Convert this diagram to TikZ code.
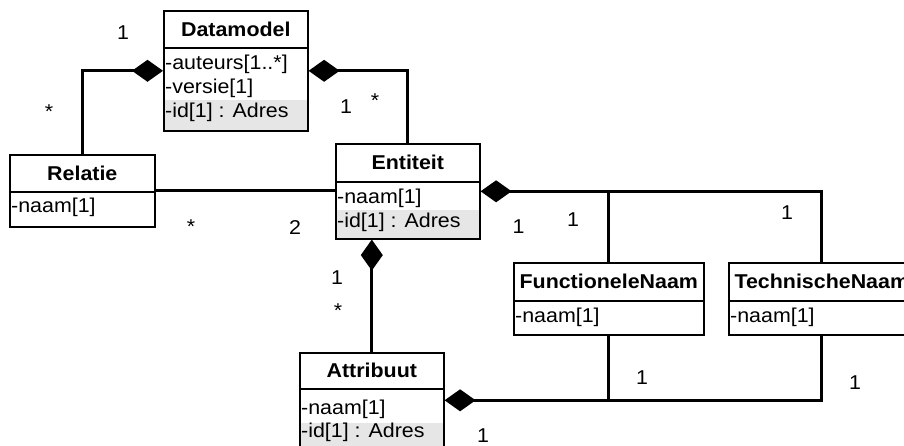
\documentclass[tikz,border=0pt]{standalone}
\usepackage{fontspec}
\setmainfont{Liberation Sans}[FakeStretch=1.07]
\usetikzlibrary{arrows.meta,backgrounds}
\definecolor{rowshade}{RGB}{230,230,230}
\tikzset{
  classbox/.style={draw, line width=1.6pt, inner sep=0pt, anchor=north west},
  classtitle/.style={anchor=base, inner sep=0pt, font=\fontsize{20}{24}\selectfont\bfseries},
  member/.style={anchor=base west, inner sep=0pt},
  mult/.style={anchor=base, inner sep=0pt},
  sepline/.style={line width=1.6pt},
  link/.style={line width=3pt},
  comp/.style={link, {Diamond[length=31pt,width=22pt,line width=0pt]}-},
}
\begin{document}
\begin{tikzpicture}[x=1pt, y=-1pt, font=\fontsize{20}{24}\selectfont]
\useasboundingbox (0,0) rectangle (904,446);
\clip (0,0) rectangle (904,446);

% class boxes
\node[classbox, minimum width=144pt, minimum height=120pt] (datamodel) at (163,10) {};
\node[classbox, minimum width=145pt, minimum height=72pt]  (relatie)   at (9,154) {};
\node[classbox, minimum width=144pt, minimum height=95pt]  (entiteit)  at (335,143) {};
\node[classbox, minimum width=190pt, minimum height=72pt]  (fnaam)     at (513,262) {};
\node[classbox, minimum width=186pt, minimum height=72pt]  (tnaam)     at (728,262) {};
\node[classbox, minimum width=144pt, minimum height=95pt]  (attribuut) at (299,352) {};

% shaded identifier rows
\begin{pgfonlayer}{background}
  \fill[rowshade] (datamodel.west |- 0,100) rectangle (datamodel.south east);
  \fill[rowshade] (entiteit.west |- 0,210) rectangle (entiteit.south east);
  \fill[rowshade] (attribuut.west |- 0,423) rectangle (attribuut.south east);
\end{pgfonlayer}

% header separators
\draw[sepline] (datamodel.west |- 0,48)  -- (datamodel.east |- 0,48);
\draw[sepline] (relatie.west |- 0,192)   -- (relatie.east |- 0,192);
\draw[sepline] (entiteit.west |- 0,182)  -- (entiteit.east |- 0,182);
\draw[sepline] (fnaam.west |- 0,301)     -- (fnaam.east |- 0,301);
\draw[sepline] (tnaam.west |- 0,301)     -- (tnaam.east |- 0,301);
\draw[sepline] (attribuut.west |- 0,389) -- (attribuut.east |- 0,389);

% class names
\node[classtitle] (datamodelname) at (datamodel.north |- 0,36.2) {Datamodel};
\node[classtitle] (relatiename)   at (relatie.north |- 0,180.2)  {Relatie};
\node[classtitle] (entiteitname)  at (entiteit.north |- 0,169.7) {Entiteit};
\node[classtitle] (fnaamname)     at (fnaam.north |- 0,288.7)    {FunctioneleNaam};
\node[classtitle] (tnaamname)     at (tnaam.north |- 0,288.7)    {TechnischeNaam};
\node[classtitle] (attribuutname) at (attribuut.north |- 0,377.7) {Attribuut};

% members
\node[member] (dm1) at (165,70)  {-auteurs[1..*]};
\node[member] (dm2) at (165,94)  {-versie[1]};
\node[member] (dm3) at (165,118) {-id[1] : Adres};
\node[member] (re1) at (11,213)  {-naam[1]};
\node[member] (en1) at (337,204) {-naam[1]};
\node[member] (en2) at (337,228) {-id[1] : Adres};
\node[member] (fn1) at (515,322) {-naam[1]};
\node[member] (tn1) at (730,322) {-naam[1]};
\node[member] (at1) at (301,414) {-naam[1]};
\node[member] (at2) at (301,437) {-id[1] : Adres};

% composition links
\draw[comp] (datamodel.west) -| (relatie.north);
\draw[comp] (datamodel.east) -| (entiteit.north);
\draw[link] (relatie.east) -- (relatie.east -| entiteit.west);
\draw[comp] (entiteit.east) -| (tnaam.north);
\draw[link] (fnaam.north) -- (fnaam.north |- entiteit.east);
\coordinate (entfoot) at (attribuut.north |- entiteit.south);
\draw[comp] (entfoot) -- (attribuut.north);
\draw[comp] (attribuut.east) -| (tnaam.south);
\draw[link] (fnaam.south) -- (fnaam.south |- attribuut.east);

% multiplicities
\node[mult] (m1)  at (123,39.2)  {1};
\node[mult] (m2)  at (49,118.8)  {*};
\node[mult] (m3)  at (346,113.2) {1};
\node[mult] (m4)  at (375,107.8) {*};
\node[mult] (m5)  at (191,233.8) {*};
\node[mult] (m6)  at (295,234.2) {2};
\node[mult] (m7)  at (518.5,233.6) {1};
\node[mult] (m8)  at (573,226.6) {1};
\node[mult] (m9)  at (787,219.2) {1};
\node[mult] (m10) at (337,284.6) {1};
\node[mult] (m11) at (338,317.8) {*};
\node[mult] (m12) at (642,384.6) {1};
\node[mult] (m13) at (855,389.6) {1};
\node[mult] (m14) at (483,442.8) {1};
\end{tikzpicture}
\end{document}
